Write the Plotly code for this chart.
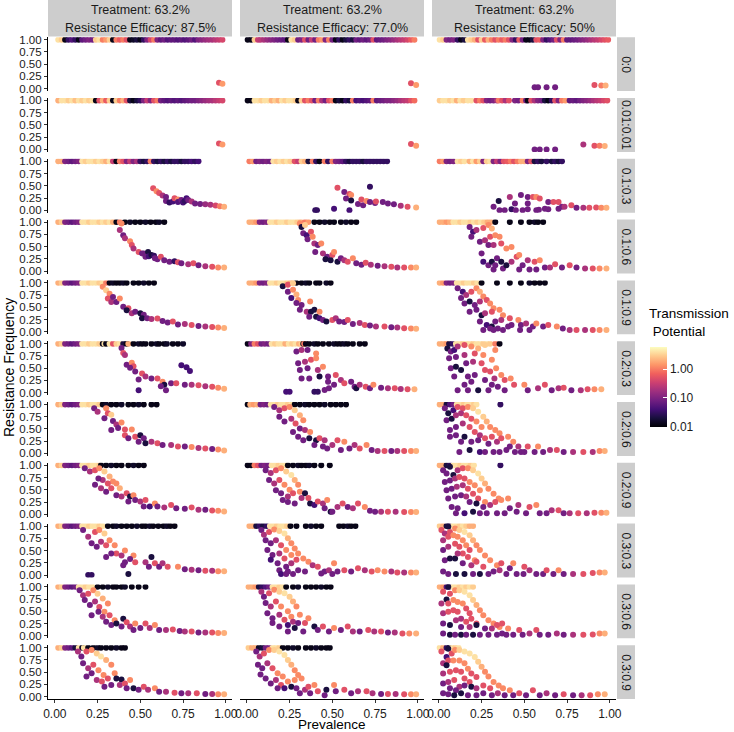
import numpy as np
import plotly.graph_objects as go

# facet labels
rows = ["0:0", "0.01:0.01", "0.1:0.3", "0.1:0.6", "0.1:0.9", "0.2:0.3",
        "0.2:0.6", "0.2:0.9", "0.3:0.3", "0.3:0.6", "0.3:0.9"]
treat = ["Treatment: 63.2%", "Treatment: 63.2%", "Treatment: 63.2%"]
effic = ["Resistance Efficacy: 87.5%", "Resistance Efficacy: 77.0%", "Resistance Efficacy: 50%"]
ticks = [0, 0.25, 0.5, 0.75, 1]
tick_txt = ["0.00", "0.25", "0.50", "0.75", "1.00"]
cb_vals = [0.01, 0.1, 1]
cb_txt = ["0.01", "0.10", "1.00"]

# T = points at resistance frequency 1: (prevalence, transmission potential)
# P = other points: (prevalence, resistance frequency, transmission potential)
# --- column 1 (efficacy 87.5%)
T00 = [(.02,4),(.04,3),(.06,.012),(.08,.03),(.10,.05),(.12,.03),(.14,.012),(.16,.06),(.18,.08),(.20,.1),(.22,.08),(.24,3),(.26,4),(.28,1),(.30,1.5),(.32,3),(.34,.012),(.36,1),(.38,.6),(.40,1),(.42,.5),(.44,.012),(.46,.015),(.48,.02),(.50,.012),(.52,.03),(.54,.1),(.56,.4),(.58,1),(.60,.1),(.62,.06),(.64,.08),(.66,.05),(.68,.06),(.70,.06),(.72,.05),(.74,.06),(.76,.05),(.78,.06),(.80,.08),(.82,.05),(.84,.1),(.86,.12),(.88,.15),(.90,.18),(.92,.2),(.94,.25),(.96,.3),(.98,.4)]
P00 = [(.96,.12,.5),(.98,.10,1.5)]
T10 = [(.02,2),(.04,4),(.06,4),(.08,3),(.10,4),(.12,2.5),(.14,4),(.16,3),(.18,4),(.20,3),(.22,4),(.24,.012),(.26,.5),(.28,2),(.30,.6),(.32,3),(.34,.012),(.36,3),(.38,1),(.40,2),(.42,.5),(.44,.02),(.46,.012),(.48,.02),(.50,.03),(.52,.1),(.54,.3),(.56,.1),(.58,.5),(.60,1),(.62,.08),(.64,.06),(.66,.05),(.68,.06),(.70,.05),(.72,.06),(.74,.05),(.76,.06),(.78,.07),(.80,.08),(.82,.08),(.84,.1),(.86,.12),(.88,.15),(.90,.18),(.92,.2),(.94,.25),(.96,.3),(.98,.4)]
P10 = [(.96,.12,.5),(.98,.10,1.5)]
T20 = [(.02,2),(.04,2),(.06,.1),(.08,.08),(.10,.06),(.12,.08),(.14,.1),(.16,4),(.18,3),(.20,4),(.22,4),(.24,3),(.26,4),(.28,3),(.30,2),(.32,4),(.34,.3),(.36,.012),(.38,1),(.40,.5),(.42,.1),(.44,.3),(.46,.1),(.48,.2),(.50,.03),(.52,.02),(.54,.03),(.56,1),(.58,.03),(.60,.02),(.62,.03),(.64,.02),(.66,.03),(.68,.02),(.70,.03),(.72,.03),(.74,.02),(.76,.03),(.78,.03),(.80,.04),(.82,.03),(.84,.04)]
P20 = [(.575,.45,.5),(.595,.39,1.2),(.61,.35,.5),(.63,.30,.2),(.65,.27,.08),(.65,.19,.08),(.67,.16,.03),(.69,.18,.04),(.70,.245,.5),(.72,.22,1.2),(.72,.17,.05),(.74,.21,.08),(.75,.16,.04),(.76,.19,.03),(.77,.245,.04),(.78,.21,.08),(.80,.18,.2),(.82,.14,.08),(.85,.13,.08),(.88,.12,.15),(.91,.11,.2),(.94,.095,.4),(.965,.08,1),(.99,.07,2)]
T30 = [(.02,2),(.04,3),(.06,.1),(.08,.08),(.10,.06),(.12,.08),(.14,.1),(.16,4),(.18,4),(.20,3),(.22,4),(.24,4),(.26,3),(.28,4),(.30,3),(.32,4),(.34,2),(.36,.012),(.38,1),(.41,.012),(.44,.015),(.47,.012),(.50,.012),(.53,.015),(.56,.012),(.59,.012),(.61,.015),(.64,.012)]
P30 = [(.39,.97,1.2),(.38,.84,.2),(.40,.73,.08),(.41,.67,.2),(.44,.61,1.2),(.45,.53,.5),(.46,.46,.2),(.49,.39,.5),(.51,.36,.08),(.52,.36,.08),(.545,.39,.02),(.53,.29,.08),(.55,.30,.04),(.565,.33,.02),(.58,.31,.03),(.585,.26,.08),(.60,.24,.08),(.62,.29,.5),(.64,.22,.08),(.67,.19,.08),(.70,.20,.03),(.72,.18,.5),(.74,.16,.08),(.78,.14,.2),(.81,.16,.5),(.84,.12,.08),(.88,.10,.2),(.92,.09,.5),(.955,.075,1.2),(.99,.07,2)]
T40 = [(.02,2),(.04,3),(.06,.1),(.08,.08),(.10,.06),(.12,.08),(.14,.1),(.16,4),(.18,4),(.20,3),(.22,4),(.24,4),(.26,3),(.28,4),(.30,1),(.32,.012),(.34,.015),(.36,.012),(.38,.012),(.40,.015),(.42,.012),(.46,.012),(.49,.012),(.52,.015),(.55,.012),(.58,.012)]
P40 = [(.28,.92,1.2),(.30,.85,3),(.32,.78,1.2),(.31,.68,.5),(.33,.61,.2),(.34,.71,.08),(.36,.61,.08),(.38,.68,1.2),(.40,.51,.08),(.43,.48,.5),(.42,.44,.02),(.45,.38,.2),(.47,.41,.08),(.50,.38,.02),(.52,.35,.08),(.51,.28,.02),(.54,.28,.08),(.565,.26,.2),(.60,.27,.5),(.63,.22,.08),(.66,.19,.08),(.69,.21,.5),(.72,.15,.08),(.76,.16,.2),(.80,.14,.5),(.84,.12,.08),(.88,.11,.2),(.92,.10,.5),(.955,.09,1.2),(.99,.08,2)]
T50 = [(.02,2),(.04,3),(.06,.1),(.08,.08),(.10,.06),(.12,.08),(.14,.1),(.16,4),(.18,4),(.20,3),(.22,4),(.24,4),(.26,3),(.28,.012),(.29,4),(.30,.012),(.32,4),(.34,.5),(.36,3),(.38,4),(.40,.02),(.42,.012),(.43,2),(.46,.012),(.49,.015),(.51,.012),(.53,.012),(.565,.012),(.595,.015),(.61,.012),(.64,.012),(.655,.015),(.69,.012),(.72,.012),(.75,.015)]
P50 = [(.39,.91,.08),(.40,.81,.5),(.41,.77,.2),(.42,.57,.08),(.45,.61,1.2),(.46,.54,.5),(.44,.51,.08),(.47,.43,.08),(.51,.39,.5),(.53,.33,.2),(.49,.27,.08),(.565,.29,.08),(.60,.29,.5),(.63,.22,1.2),(.64,.16,.02),(.62,.13,.08),(.49,.05,.04),(.65,.05,.08),(.68,.19,.08),(.71,.19,.5),(.74,.56,.04),(.77,.52,.04),(.79,.44,.04),(.76,.16,.08),(.80,.16,.2),(.84,.15,.5),(.88,.13,.2),(.92,.12,.5),(.955,.10,1.2),(.99,.08,2)]
T60 = [(.02,2),(.04,3),(.06,.1),(.08,.08),(.10,.06),(.12,.08),(.14,.1),(.16,4),(.18,4),(.20,3),(.22,4),(.24,4),(.26,3),(.28,.012),(.30,.015),(.33,.012),(.36,.012),(.39,.015),(.43,.012),(.46,.012),(.49,.015),(.52,.012),(.565,.012),(.595,.012)]
P60 = [(.23,.92,.08),(.25,.85,.2),(.30,.92,1.2),(.31,.82,.5),(.29,.72,.08),(.33,.79,3),(.34,.66,.08),(.36,.59,.2),(.39,.63,1.2),(.37,.52,.08),(.41,.49,.5),(.45,.49,1.2),(.33,.48,.08),(.41,.37,.5),(.43,.31,.08),(.47,.34,.5),(.50,.37,.02),(.52,.31,.08),(.49,.24,.08),(.53,.21,.02),(.565,.24,.2),(.60,.21,.5),(.63,.17,.08),(.68,.17,.2),(.72,.14,.5),(.76,.14,.08),(.80,.13,1.2),(.84,.11,.2),(.88,.10,.5),(.92,.09,.08),(.955,.08,1.2),(.99,.06,2)]
T70 = [(.02,2),(.04,3),(.06,.1),(.08,.08),(.10,.06),(.12,.08),(.14,.1),(.16,4),(.18,4),(.20,3),(.22,4),(.24,4),(.26,3),(.27,.012),(.30,.012),(.33,.015),(.36,.012),(.39,.012),(.43,.012),(.46,.015),(.49,.012),(.52,.012)]
P70 = [(.175,.94,.08),(.205,.87,.2),(.235,.90,.5),(.26,.94,1.2),(.29,.87,3),(.32,.77,2),(.34,.67,1.2),(.31,.63,.5),(.28,.70,.2),(.255,.73,.08),(.235,.60,.08),(.27,.53,.2),(.30,.46,.08),(.33,.53,.5),(.36,.63,1.2),(.38,.53,2),(.36,.39,.08),(.39,.36,.2),(.42,.43,.5),(.44,.36,.02),(.46,.39,1.2),(.43,.26,.08),(.47,.29,.08),(.50,.26,.2),(.53,.29,.5),(.52,.16,.08),(.555,.16,.04),(.585,.22,1.2),(.60,.16,.08),(.64,.14,.2),(.68,.19,.5),(.71,.12,.08),(.76,.11,.08),(.80,.14,.5),(.84,.09,.2),(.88,.09,.08),(.92,.075,.5),(.955,.07,1.2),(.99,.055,2)]
T80 = [(.02,2),(.04,3),(.06,.1),(.08,.08),(.10,.06),(.12,.08),(.14,.1),(.16,4),(.18,4),(.20,3),(.22,4),(.24,4),(.26,3),(.28,4),(.31,.012),(.34,.012),(.36,.015),(.39,.012),(.42,.012),(.45,.012),(.48,.015),(.51,.012),(.53,.012),(.555,.015),(.575,.012),(.605,.012),(.635,.012),(.655,.015),(.675,.012),(.70,.012)]
P80 = [(.165,.92,.08),(.195,.78,.2),(.235,.88,.5),(.26,.92,1.2),(.29,.85,3),(.32,.71,1.2),(.215,.65,.08),(.245,.58,.08),(.27,.68,.2),(.30,.61,.5),(.35,.61,1.2),(.36,.44,.5),(.33,.44,.08),(.30,.37,.08),(.39,.40,.2),(.41,.50,1.2),(.46,.40,1.2),(.41,.26,.08),(.44,.33,.08),(.47,.26,.5),(.43,.02,.02),(.40,.20,.08),(.53,.26,.2),(.565,.37,.02),(.55,.17,.08),(.585,.24,.5),(.61,.17,.08),(.63,.24,.2),(.195,.00,.03),(.215,.00,.03),(.66,.17,.5),(.72,.17,1.2),(.76,.12,.08),(.80,.11,.2),(.84,.10,.08),(.88,.09,.5),(.92,.09,.2),(.955,.075,1.2),(.99,.075,2)]
T90 = [(.02,2),(.04,3),(.06,.1),(.08,.08),(.10,.06),(.12,.08),(.14,4),(.16,4),(.18,3),(.20,4),(.22,4),(.25,.012),(.28,.012),(.31,.015),(.34,.012),(.36,.012),(.39,.012),(.41,.015),(.45,.012),(.49,.012),(.53,.012)]
P90 = [(.145,.93,.08),(.165,.83,.2),(.195,.86,.5),(.225,.93,1.2),(.25,.86,3),(.28,.76,2),(.31,.66,1.2),(.175,.73,.08),(.205,.63,.08),(.235,.70,.2),(.26,.59,.5),(.29,.49,1.2),(.215,.42,.08),(.255,.49,.08),(.28,.39,.2),(.32,.42,.5),(.35,.32,1.2),(.30,.29,.08),(.33,.22,.08),(.36,.25,.02),(.40,.35,.02),(.39,.19,.08),(.42,.28,.5),(.44,.19,.2),(.47,.25,1.2),(.46,.12,.08),(.50,.16,.08),(.53,.25,.5),(.555,.16,.2),(.585,.22,1.2),(.61,.12,.08),(.65,.12,.2),(.69,.13,.5),(.73,.10,.08),(.76,.09,.2),(.80,.09,.5),(.84,.07,.08),(.88,.07,.2),(.92,.07,.5),(.955,.06,1.2),(.99,.06,2)]
T100 = [(.02,2),(.04,3),(.06,.1),(.08,.08),(.10,.06),(.12,.02),(.14,4),(.16,.015),(.17,4),(.195,.012),(.225,.012),(.25,.015),(.27,.012),(.30,.012),(.33,.012),(.36,.015),(.39,.012),(.41,.012)]
P100 = [(.135,.92,.2),(.155,.82,.08),(.185,.92,.5),(.215,.95,1.2),(.245,.88,3),(.27,.82,4),(.30,.75,2),(.33,.65,1.2),(.165,.68,.08),(.195,.58,.2),(.225,.65,.5),(.255,.54,1.2),(.285,.44,1.2),(.185,.41,.08),(.215,.48,.08),(.245,.34,.2),(.275,.31,.5),(.31,.37,.5),(.35,.48,1.2),(.29,.20,.08),(.33,.24,.08),(.36,.37,.02),(.39,.35,.02),(.38,.24,.2),(.41,.27,.5),(.42,.17,.08),(.44,.34,1.2),(.46,.17,.02),(.49,.14,.08),(.52,.20,.5),(.545,.14,.2),(.585,.17,1.2),(.61,.10,.08),(.65,.10,.2),(.70,.08,.5),(.74,.07,.08),(.78,.07,.2),(.83,.07,.5),(.88,.055,.08),(.92,.055,.2),(.955,.05,1.2),(.99,.05,2)]
# --- column 2 (efficacy 77.0%)
T01 = [(.005,.012),(.025,.012),(.045,3),(.065,.3),(.08,.25),(.10,.2),(.12,.15),(.14,.12),(.16,.1),(.18,.08),(.20,.07),(.22,.06),(.24,.012),(.26,4),(.28,3),(.30,.08),(.32,.1),(.34,.5),(.36,.08),(.38,.3),(.40,.08),(.42,1),(.44,1.5),(.46,.1),(.48,1),(.50,.08),(.52,.012),(.54,.03),(.56,.012),(.58,.02),(.60,.03),(.62,.02),(.64,.08),(.66,.06),(.68,.08),(.70,.06),(.72,.08),(.74,.5),(.76,.06),(.78,.07),(.80,.08),(.82,.1),(.84,.12),(.86,.15),(.88,.2),(.90,.25),(.92,.3),(.94,.4),(.96,.6),(.98,1)]
P01 = [(.96,.11,.5),(.99,.075,1.5)]
T11 = [(.005,.012),(.025,.012),(.045,4),(.065,4),(.085,3),(.105,4),(.125,4),(.145,2),(.165,3),(.185,2),(.205,4),(.225,3),(.245,4),(.265,4),(.285,3),(.30,.012),(.32,3),(.34,.5),(.36,1),(.38,.5),(.40,.08),(.42,1),(.44,.2),(.46,.08),(.48,.5),(.50,1),(.52,.012),(.54,.02),(.56,.012),(.58,.03),(.60,.02),(.62,1),(.64,.04),(.66,.05),(.68,.04),(.70,.05),(.72,.06),(.74,1),(.76,.06),(.78,.07),(.80,.08),(.82,.1),(.84,.1),(.86,.12),(.88,.15),(.90,.2),(.92,.25),(.94,.3),(.96,.5),(.98,.8)]
P11 = [(.96,.11,.5),(.99,.075,1.5)]
T21 = [(.015,1),(.035,1.5),(.055,.08),(.075,.1),(.095,.08),(.115,.1),(.135,.08),(.155,4),(.175,3),(.195,4),(.215,3),(.235,4),(.255,3),(.28,.5),(.30,.3),(.32,3),(.34,2),(.36,.02),(.385,1),(.405,.03),(.425,.012),(.455,1),(.475,.03),(.50,1),(.52,.1),(.54,.08),(.56,.06),(.58,.03),(.60,.02),(.62,.03),(.64,.03),(.66,.03),(.68,.02),(.70,.03),(.72,.03),(.74,.03),(.76,.03),(.78,.03),(.80,.03),(.82,.03)]
P21 = [(.53,.46,.5),(.57,.37,.08),(.60,.33,.5),(.61,.31,1.2),(.72,.48,.03),(.58,.24,.08),(.61,.20,.02),(.51,.03,.04),(.40,.00,.03),(.41,.00,.03),(.60,.00,.04),(.65,.13,.08),(.68,.10,.08),(.67,.22,.5),(.70,.19,1.2),(.72,.17,.08),(.75,.15,.08),(.755,.18,.5),(.795,.17,.08),(.825,.14,.08),(.86,.12,.08),(.90,.09,.2),(.94,.07,.5),(.99,.055,2)]
T31 = [(.015,2),(.035,2),(.055,1.5),(.075,.1),(.095,.08),(.115,.1),(.135,4),(.155,4),(.175,3),(.195,4),(.215,4),(.235,3),(.255,4),(.275,4),(.295,3),(.315,2),(.34,1),(.36,1.5),(.395,.012),(.425,.012),(.455,.015),(.485,.012),(.51,.012),(.55,.012),(.58,.015),(.61,.012),(.64,.012)]
P31 = [(.31,.97,1.2),(.32,.90,.02),(.34,.94,3),(.33,.77,.08),(.35,.73,.04),(.375,.80,.5),(.355,.65,.08),(.385,.70,1.2),(.395,.56,.2),(.415,.53,.08),(.435,.56,1.2),(.40,.39,.08),(.445,.36,.2),(.47,.29,.08),(.46,.24,.02),(.50,.33,.5),(.51,.39,1.2),(.49,.22,.02),(.53,.19,.02),(.55,.26,.08),(.57,.22,.2),(.59,.19,.5),(.62,.26,1.2),(.64,.16,.08),(.67,.13,.08),(.695,.17,.5),(.725,.13,.2),(.765,.11,.08),(.805,.10,.2),(.845,.09,.5),(.88,.075,.2),(.92,.075,.5),(.96,.07,1.2),(.99,.07,2)]
T41 = [(.015,2),(.035,2),(.055,1.5),(.075,.1),(.095,.08),(.115,.1),(.135,4),(.155,4),(.175,3),(.195,4),(.215,4),(.235,3),(.255,2),(.27,3),(.29,.012),(.32,.012),(.345,.015),(.365,.012),(.405,.012),(.425,.012),(.465,.015),(.49,.012)]
P41 = [(.21,.93,.02),(.24,.96,.5),(.27,.99,3),(.24,.82,.08),(.27,.86,1.2),(.29,.76,2),(.26,.69,.04),(.30,.65,1.2),(.29,.59,.08),(.32,.55,.08),(.37,.62,1.2),(.31,.45,.08),(.35,.41,.2),(.375,.41,.02),(.395,.45,.02),(.425,.41,1.2),(.365,.31,.08),(.405,.31,.02),(.425,.28,.04),(.445,.24,.08),(.465,.21,.02),(.50,.24,.5),(.52,.28,.2),(.54,.21,.08),(.57,.20,.08),(.59,.24,.5),(.62,.16,.08),(.66,.18,.2),(.69,.14,.5),(.72,.13,.08),(.755,.11,.2),(.805,.11,.5),(.845,.095,.08),(.88,.09,.2),(.92,.075,.5),(.96,.07,1.2),(.99,.065,2)]
T51 = [(.005,.012),(.025,.1),(.045,1),(.065,.5),(.085,.08),(.105,.1),(.125,.08),(.145,4),(.165,3),(.185,4),(.205,4),(.225,2),(.245,4),(.265,3),(.285,4),(.305,2),(.32,3),(.33,.012),(.335,1),(.345,.012),(.365,.012),(.395,.015),(.415,.012),(.445,.012),(.48,.012),(.51,.015),(.53,.012),(.55,.012),(.57,.015),(.59,.012),(.62,.012),(.66,.012),(.69,.012)]
P51 = [(.29,.84,.08),(.32,.87,.2),(.355,.87,.08),(.405,.80,1.2),(.30,.60,.08),(.34,.63,.2),(.375,.67,.5),(.405,.70,1.2),(.31,.46,.08),(.355,.50,.08),(.415,.46,.2),(.445,.53,1.2),(.32,.29,.08),(.365,.29,.08),(.425,.33,.02),(.475,.33,.08),(.52,.36,.5),(.475,.22,.08),(.51,.16,.08),(.48,.09,.08),(.55,.26,.2),(.57,.19,.5),(.61,.22,.08),(.63,.12,.08),(.64,.09,.02),(.66,.16,.2),(.695,.12,.5),(.72,.09,.08),(.74,.16,1.2),(.785,.10,.08),(.825,.09,.2),(.865,.09,.5),(.90,.075,.2),(.94,.07,.5),(.98,.07,2),(.23,.02,.04),(.25,.02,.04),(.395,.02,.03),(.415,.02,.03),(.455,.055,.08)]
T61 = [(.005,.012),(.02,2),(.04,1.5),(.06,2),(.08,.08),(.10,.1),(.12,.08),(.14,4),(.16,4),(.18,3),(.20,4),(.22,4),(.24,3),(.26,4),(.28,.012),(.31,.012),(.34,.015),(.365,.012),(.395,.012),(.425,.012),(.455,.015),(.49,.012),(.52,.012),(.55,.012),(.58,.012)]
P61 = [(.16,.95,.08),(.19,.88,.2),(.22,.92,.5),(.25,.95,1.2),(.28,.88,3),(.31,.78,2),(.33,.68,1.2),(.19,.75,.08),(.22,.65,.08),(.26,.71,.2),(.285,.61,.5),(.31,.51,.08),(.27,.44,.08),(.34,.48,.2),(.37,.44,1.2),(.30,.34,.08),(.33,.27,.08),(.365,.31,.02),(.405,.27,.02),(.395,.17,.08),(.425,.31,.5),(.455,.27,.2),(.445,.14,.08),(.47,.10,.08),(.50,.17,.2),(.53,.27,.5),(.57,.24,1.2),(.55,.07,.08),(.60,.10,.08),(.63,.17,.2),(.66,.10,.5),(.70,.17,1.2),(.73,.07,.08),(.765,.05,.2),(.805,.05,.5),(.845,.05,.08),(.88,.05,.2),(.92,.05,.5),(.96,.05,1.2),(.99,.05,2)]
T71 = [(.005,.012),(.025,.012),(.045,1),(.065,.5),(.085,.08),(.105,.1),(.125,.08),(.145,4),(.165,4),(.185,3),(.205,4),(.225,4),(.24,.012),(.27,.012),(.30,.015),(.32,.012),(.345,.012),(.365,.015),(.395,.012),(.435,.012),(.485,.012)]
P71 = [(.11,.90,.08),(.14,.84,.2),(.17,.90,.5),(.20,.94,1.2),(.23,.87,3),(.26,.80,4),(.28,.70,2),(.30,.60,1.2),(.13,.70,.08),(.16,.63,.2),(.19,.70,.5),(.22,.60,1.2),(.25,.50,1.2),(.17,.49,.08),(.20,.43,.08),(.24,.36,.2),(.27,.43,.5),(.31,.46,1.2),(.21,.29,.08),(.24,.25,.08),(.28,.22,.08),(.32,.33,.2),(.34,.43,.02),(.36,.33,.5),(.37,.22,.02),(.395,.19,.04),(.415,.26,.5),(.445,.22,.2),(.47,.29,1.2),(.455,.12,.08),(.49,.05,.02),(.50,.05,.08),(.53,.15,.2),(.56,.22,.5),(.59,.15,.08),(.62,.12,.2),(.65,.22,.5),(.69,.15,1.2),(.72,.07,.08),(.75,.05,.08),(.785,.05,.2),(.825,.05,.5),(.87,.05,.2),(.92,.045,.5),(.96,.045,1.2),(.99,.045,2)]
T81 = [(.015,2),(.035,2),(.055,.02),(.075,.03),(.095,.02),(.115,.03),(.135,4),(.155,4),(.175,3),(.195,4),(.215,4),(.235,3),(.255,.012),(.29,.012),(.345,.012),(.375,.015),(.405,.012),(.435,.012),(.54,.012),(.565,.012),(.59,.015),(.61,.012),(.635,.012)]
P81 = [(.085,.92,.08),(.10,.82,.2),(.13,.88,.5),(.16,.93,1.2),(.19,.90,3),(.22,.85,4),(.24,.75,2),(.26,.65,1.2),(.28,.54,1.2),(.11,.71,.08),(.14,.65,.08),(.17,.71,.2),(.20,.61,.5),(.23,.51,1.2),(.12,.51,.08),(.15,.41,.08),(.19,.44,.2),(.22,.34,.5),(.26,.41,1.2),(.30,.44,1.2),(.14,.31,.04),(.18,.24,.08),(.23,.17,.08),(.26,.24,.2),(.29,.31,.5),(.33,.34,1.2),(.36,.27,1.2),(.19,.10,.08),(.24,.07,.08),(.20,.02,.04),(.30,.10,.08),(.34,.07,.08),(.385,.20,.2),(.415,.17,.5),(.455,.07,.08),(.48,.10,.2),(.51,.24,1.2),(.53,.07,.08),(.57,.10,.5),(.61,.07,.08),(.65,.14,.5),(.69,.10,.2),(.73,.07,.5),(.765,.10,1.2),(.805,.07,1.2),(.845,.07,.2),(.88,.05,.5),(.92,.05,.2),(.96,.05,1.2),(.99,.05,2),(.23,.02,.08),(.27,.02,.08),(.435,.03,.08),(.50,.02,.08)]
T91 = [(.01,2),(.03,2),(.05,1.5),(.07,.02),(.09,.03),(.11,.05),(.13,.08),(.15,4),(.17,4),(.19,3),(.21,4),(.23,.012),(.27,.012),(.30,.015),(.345,.012),(.375,.012),(.405,.012),(.435,.015),(.465,.012),(.49,.012)]
P91 = [(.085,.90,.2),(.10,.80,.08),(.13,.87,.5),(.16,.94,1.2),(.19,.90,3),(.22,.87,4),(.25,.80,3),(.27,.70,2),(.29,.60,1.2),(.11,.67,.08),(.14,.60,.2),(.17,.70,.5),(.20,.60,1.2),(.24,.50,1.2),(.12,.46,.08),(.15,.36,.08),(.19,.43,.2),(.22,.33,.5),(.26,.39,1.2),(.31,.43,1.2),(.15,.26,.08),(.19,.19,.08),(.24,.22,.04),(.27,.29,.2),(.30,.26,.08),(.34,.26,.5),(.36,.36,1.2),(.24,.09,.08),(.28,.16,.02),(.33,.09,.08),(.395,.19,.02),(.415,.12,.08),(.445,.19,.5),(.48,.09,.08),(.51,.16,1.2),(.55,.12,.08),(.59,.19,.5),(.62,.09,.2),(.66,.09,.08),(.71,.12,.5),(.745,.09,.2),(.785,.09,.5),(.825,.07,.08),(.865,.07,.2),(.91,.05,.5),(.95,.05,1.2),(.99,.05,2)]
T101 = [(.01,3),(.03,2),(.05,2),(.07,.015),(.09,.02),(.11,.08),(.13,.1),(.15,4),(.17,4),(.19,3),(.21,.012),(.24,.012),(.27,.015),(.30,.012),(.345,.012),(.375,.012),(.405,.015),(.435,.012),(.465,.012),(.485,.012)]
P101 = [(.055,.92,.08),(.075,.82,.2),(.10,.88,.5),(.13,.95,1.2),(.16,.95,3),(.19,.92,4),(.22,.85,4),(.24,.75,3),(.26,.65,2),(.28,.54,1.2),(.30,.44,1.2),(.065,.65,.08),(.09,.58,.08),(.12,.68,.2),(.15,.58,.5),(.18,.48,1.2),(.21,.41,1.2),(.08,.45,.08),(.11,.37,.08),(.14,.27,.08),(.17,.34,.2),(.20,.24,.5),(.24,.31,1.2),(.28,.34,1.2),(.32,.37,1.2),(.18,.17,.08),(.22,.17,.04),(.26,.20,.02),(.29,.17,.08),(.31,.07,.08),(.34,.14,.2),(.36,.20,.5),(.395,.24,1.2),(.37,.07,.08),(.415,.11,.5),(.455,.03,.08),(.465,.14,.02),(.51,.24,1.2),(.52,.11,.08),(.57,.14,.5),(.61,.07,.08),(.65,.11,.2),(.70,.11,.5),(.735,.07,.2),(.785,.055,.08),(.825,.055,.5),(.87,.055,.2),(.92,.05,.5),(.96,.05,1.2),(.99,.05,2)]
# --- column 3 (efficacy 50%)
T02 = [(.005,4),(.025,3),(.045,.1),(.065,.08),(.085,.1),(.11,.03),(.13,.012),(.15,.02),(.17,4),(.19,3),(.21,2),(.23,.5),(.25,3),(.27,.6),(.29,2),(.31,1),(.33,.5),(.35,1),(.37,.6),(.39,1),(.41,.5),(.43,.1),(.45,.03),(.47,.6),(.49,.08),(.51,.012),(.53,.012),(.55,.02),(.57,.5),(.59,.6),(.61,.1),(.63,.03),(.65,.05),(.67,.08),(.69,.5),(.71,.1),(.73,1),(.75,.06),(.77,.06),(.79,.07),(.81,.08),(.83,.1),(.85,.12),(.87,.15),(.89,.2),(.91,.25),(.93,.3),(.95,.4),(.97,.5),(.99,.6)]
P02 = [(.56,.03,.08),(.58,.03,.08),(.63,.03,.08),(.68,.03,.08),(.91,.075,.5),(.95,.065,1),(.975,.065,2)]
T12 = [(.005,3),(.025,4),(.045,4),(.065,3),(.085,4),(.105,2),(.125,4),(.145,3),(.17,4),(.19,4),(.22,.5),(.24,1),(.26,.5),(.28,.1),(.30,.08),(.32,.1),(.34,.2),(.35,1),(.37,.5),(.39,.2),(.41,.5),(.445,.1),(.465,.08),(.49,1),(.51,.08),(.52,.012),(.54,.5),(.56,.2),(.58,.1),(.60,.08),(.62,.02),(.64,.012),(.66,.03),(.68,.5),(.70,.1),(.72,1),(.74,1.5),(.765,.06),(.785,.07),(.805,.06),(.825,.08),(.845,.1),(.865,.12),(.885,.15),(.905,.2),(.925,.25),(.945,.3),(.965,.4),(.985,.5)]
P12 = [(.56,.0,.08),(.59,.0,.08),(.63,.0,.08),(.68,.0,.08),(.845,.10,.2),(.91,.075,.5),(.94,.075,1),(.97,.07,2)]
T22 = [(.005,1),(.025,1.5),(.045,.1),(.065,.08),(.085,.1),(.11,4),(.13,3),(.15,4),(.18,2),(.20,4),(.22,1.5),(.24,3),(.26,.1),(.28,3),(.30,4),(.32,.1),(.34,.3),(.36,.1),(.38,.5),(.40,.6),(.42,1),(.44,.5),(.46,1),(.48,2),(.50,2),(.52,.1),(.54,.5),(.56,.02),(.58,.03),(.60,.02),(.63,.03),(.66,.02),(.68,.03),(.70,.02),(.72,.03)]
P22 = [(.32,.07,.08),(.35,.19,.02),(.355,.00,.08),(.385,.00,.08),(.415,.27,.2),(.425,.02,.03),(.445,.14,.08),(.45,.00,.08),(.48,.31,.08),(.49,.00,.08),(.52,.27,.08),(.52,.14,.08),(.52,.02,.08),(.55,.27,.5),(.57,.27,1.2),(.57,.00,.08),(.59,.24,.5),(.585,.01,.08),(.62,.03,.08),(.64,.17,.08),(.64,.02,.08),(.67,.17,.5),(.70,.17,.5),(.70,.03,.08),(.72,.07,.08),(.735,.07,.2),(.775,.10,.5),(.805,.05,.08),(.845,.05,.2),(.88,.05,.5),(.92,.055,.5),(.95,.05,1.2),(.98,.05,2)]
T32 = [(.005,2),(.025,2),(.045,1.5),(.065,2),(.085,4),(.105,4),(.125,3),(.145,4),(.165,4),(.185,3),(.205,4),(.225,3),(.245,4),(.265,3),(.285,2),(.305,2),(.33,.012),(.415,.012),(.48,.012),(.53,.012),(.56,.015),(.58,.012),(.61,.012)]
P32 = [(.18,.90,.08),(.20,.80,.04),(.19,.70,.08),(.22,.84,.2),(.26,.88,.5),(.29,.94,1.2),(.31,.87,2),(.24,.60,.08),(.27,.63,.2),(.30,.70,.5),(.33,.73,1.2),(.355,.70,1.2),(.25,.36,.08),(.29,.53,.08),(.32,.53,.2),(.365,.56,.5),(.395,.46,1.2),(.425,.49,1.2),(.26,.19,.04),(.29,.12,.08),(.31,.19,.02),(.33,.12,.08),(.34,.26,.08),(.365,.19,.02),(.375,.05,.08),(.395,.12,.02),(.425,.19,.2),(.455,.29,.5),(.47,.33,1.2),(.49,.12,.08),(.52,.22,.2),(.56,.19,.5),(.59,.22,1.2),(.32,.03,.08),(.47,.03,.08),(.53,.03,.08),(.57,.03,.08),(.62,.07,.08),(.65,.07,.2),(.68,.14,.5),(.72,.07,.08),(.765,.12,.5),(.805,.07,.08),(.855,.05,.2),(.90,.05,.5),(.94,.05,1.2),(.98,.05,2)]
T42 = [(.005,2),(.025,1.5),(.045,.1),(.065,.08),(.085,.1),(.105,4),(.125,4),(.145,3),(.165,4),(.185,4),(.205,3),(.225,4),(.25,.012),(.34,.012),(.415,.012),(.48,.012),(.53,.015),(.56,.012),(.59,.012),(.62,.012)]
P42 = [(.11,.89,.08),(.14,.82,.04),(.13,.69,.08),(.16,.75,.2),(.19,.82,.5),(.22,.89,1.2),(.24,.82,2),(.26,.72,1.2),(.15,.58,.08),(.18,.62,.02),(.21,.55,.08),(.24,.62,.2),(.28,.65,.5),(.30,.58,1.2),(.32,.48,1.2),(.18,.41,.08),(.22,.45,.08),(.25,.34,.02),(.27,.38,.2),(.31,.41,.5),(.355,.45,1.2),(.375,.34,1.2),(.24,.21,.08),(.28,.14,.04),(.31,.11,.02),(.33,.21,.08),(.365,.24,.2),(.405,.11,.08),(.415,.28,.5),(.425,.14,.08),(.465,.24,1.2),(.48,.14,.08),(.51,.17,.2),(.55,.11,.08),(.57,.17,1.2),(.61,.11,.08),(.64,.14,.5),(.69,.11,1.2),(.725,.07,.08),(.765,.04,.2),(.805,.04,.5),(.855,.04,.2),(.90,.04,.5),(.94,.04,1.2),(.98,.04,2),(.26,.04,.08),(.30,.07,.08),(.32,.04,.08),(.345,.07,.08),(.375,.04,.08),(.475,.04,.08),(.53,.04,.08)]
T52 = [(.005,2),(.025,2),(.045,1.5),(.06,.02),(.08,.03),(.10,4),(.12,4),(.14,3),(.16,4),(.18,4),(.20,3),(.22,4),(.24,4),(.26,3),(.28,4),(.30,3),(.33,1),(.355,.012)]
P52 = [(.05,.90,.02),(.07,.84,.08),(.09,.87,.04),(.11,.94,.2),(.15,.97,.5),(.19,.94,1.2),(.23,.90,2),(.27,.97,3),(.33,.87,1.2),(.06,.70,.08),(.10,.73,.08),(.15,.77,.2),(.21,.80,.5),(.26,.77,1.2),(.07,.50,.08),(.10,.53,.02),(.16,.60,.08),(.20,.63,.2),(.25,.60,.5),(.31,.67,1.2),(.335,.50,1.2),(.09,.33,.08),(.13,.46,.02),(.17,.33,.08),(.21,.36,.08),(.27,.46,.5),(.30,.43,.5),(.365,.36,1.2),(.15,.16,.08),(.19,.22,.08),(.27,.26,.08),(.325,.29,.2),(.385,.26,.5),(.42,.29,1.2),(.11,.05,.08),(.17,.05,.08),(.23,.05,.02),(.29,.05,.08),(.31,.16,.08),(.345,.12,.08),(.385,.05,.08),(.44,.16,.5),(.50,.16,1.2),(.52,.05,.08),(.58,.09,.2),(.62,.16,.5),(.66,.05,.08),(.70,.09,.2),(.73,.10,.5),(.775,.05,.08),(.83,.05,.2),(.87,.07,.5),(.91,.07,1.2),(.95,.07,2)]
T62 = [(.005,2),(.025,2),(.045,.02),(.065,.05),(.085,.08),(.105,4),(.125,4),(.145,3),(.165,4),(.185,4),(.205,3),(.22,4),(.36,.03)]
P62 = [(.035,.92,.08),(.055,.82,.02),(.085,.88,.04),(.11,.95,.5),(.14,.92,.5),(.17,.95,1.2),(.20,.92,3),(.23,.85,4),(.26,.75,3),(.28,.65,2),(.30,.54,1.2),(.33,.48,1.2),(.355,.41,1.2),(.045,.68,.08),(.075,.71,.02),(.10,.78,.2),(.13,.82,.2),(.16,.78,.5),(.19,.71,.5),(.22,.65,1.2),(.25,.54,1.2),(.065,.48,.08),(.10,.54,.08),(.14,.61,.2),(.18,.54,.5),(.21,.44,.5),(.24,.37,.2),(.27,.31,.5),(.31,.34,.5),(.065,.34,.08),(.10,.37,.08),(.13,.24,.08),(.15,.34,.02),(.19,.24,.08),(.23,.27,.08),(.29,.20,.08),(.34,.24,.2),(.365,.31,.5),(.405,.34,1.2),(.435,.24,1.2),(.12,.03,.08),(.18,.07,.02),(.24,.03,.04),(.27,.03,.08),(.32,.03,.08),(.355,.03,.08),(.395,.07,.08),(.415,.14,.08),(.445,.03,.08),(.465,.14,.2),(.48,.03,.08),(.50,.03,.08),(.52,.14,.5),(.56,.03,.08),(.58,.14,1.2),(.61,.03,.08),(.65,.07,.2),(.69,.07,.5),(.73,.03,.08),(.785,.03,.2),(.845,.03,.5),(.90,.03,.2),(.94,.05,1.2),(.97,.05,2)]
T72 = [(.005,2),(.025,2),(.045,.02),(.065,.03),(.085,4),(.105,4),(.125,3),(.145,4),(.165,4),(.185,3),(.205,4),(.36,.03)]
P72 = [(.025,.90,.08),(.045,.83,.08),(.065,.97,.02),(.085,.80,.02),(.11,.90,.2),(.14,.94,.5),(.17,.94,1.2),(.20,.90,3),(.23,.83,4),(.25,.73,3),(.27,.63,2),(.29,.52,1.2),(.32,.42,1.2),(.35,.32,1.2),(.035,.66,.08),(.065,.69,.08),(.095,.73,.2),(.12,.76,.5),(.15,.73,.5),(.18,.66,1.2),(.21,.59,1.2),(.24,.49,1.2),(.045,.49,.08),(.075,.52,.08),(.105,.56,.2),(.14,.59,.2),(.17,.52,.5),(.20,.42,.5),(.23,.32,.5),(.27,.25,1.2),(.055,.32,.08),(.095,.36,.08),(.13,.39,.08),(.16,.36,.2),(.18,.25,.08),(.22,.22,.02),(.26,.15,.08),(.30,.19,.2),(.33,.25,.5),(.365,.29,1.2),(.405,.32,1.2),(.075,.15,.08),(.11,.12,.08),(.10,.02,.08),(.15,.02,.04),(.20,.05,.02),(.24,.02,.08),(.28,.02,.08),(.34,.02,.08),(.385,.02,.08),(.415,.12,.08),(.455,.05,.08),(.465,.19,.2),(.51,.02,.08),(.53,.15,.5),(.57,.19,1.2),(.59,.02,.08),(.63,.02,.08),(.66,.08,.2),(.70,.08,.5),(.73,.02,.08),(.765,.02,.2),(.815,.02,.5),(.865,.02,.2),(.91,.03,.5),(.95,.03,1.2),(.98,.03,2)]
T82 = [(.005,3),(.025,2),(.045,.02),(.06,.03),(.08,4),(.10,4),(.12,3),(.14,4),(.16,3),(.18,2),(.20,2)]
P82 = [(.015,.92,.5),(.035,.85,.2),(.055,.99,.02),(.065,.88,.5),(.095,.95,1.2),(.12,.92,3),(.15,.88,4),(.18,.81,3),(.20,.71,2),(.22,.61,1.2),(.24,.51,1.2),(.27,.40,1.2),(.30,.30,1.2),(.34,.20,1.2),(.025,.71,.2),(.055,.78,.5),(.085,.81,1.2),(.11,.78,1.2),(.14,.71,1.2),(.16,.61,1.2),(.18,.51,.5),(.025,.51,.08),(.055,.58,.2),(.095,.64,.5),(.12,.58,.5),(.14,.44,.5),(.17,.37,.5),(.21,.30,1.2),(.035,.30,.08),(.065,.34,.02),(.095,.34,.02),(.11,.44,.2),(.14,.24,.08),(.19,.20,.2),(.22,.27,.5),(.26,.17,.5),(.025,.07,.08),(.055,.02,.08),(.10,.02,.02),(.15,.02,.02),(.20,.02,.08),(.24,.02,.02),(.29,.02,.08),(.32,.07,.08),(.355,.10,.2),(.365,.24,.5),(.395,.02,.08),(.415,.14,.08),(.435,.24,1.2),(.455,.02,.08),(.495,.02,.08),(.50,.17,.5),(.53,.10,.2),(.57,.02,.08),(.61,.02,.08),(.63,.10,.5),(.67,.02,.08),(.70,.10,1.2),(.73,.02,.08),(.785,.02,.2),(.845,.02,.5),(.90,.04,.5),(.94,.05,1.2),(.97,.05,2)]
T92 = [(.005,2),(.025,1.5),(.045,.05),(.06,.03),(.08,4),(.10,4),(.12,3),(.14,4),(.16,3),(.18,4),(.20,3)]
P92 = [(.025,.90,.5),(.045,.74,.02),(.055,1.0,.02),(.065,.86,.5),(.095,.93,1.2),(.12,.93,3),(.15,.90,4),(.18,.83,4),(.20,.73,3),(.22,.63,2),(.24,.52,1.2),(.26,.42,1.2),(.29,.32,1.2),(.32,.25,1.2),(.355,.18,1.2),(.015,.66,.2),(.055,.66,.5),(.085,.73,1.2),(.11,.69,1.2),(.14,.66,1.2),(.16,.56,.5),(.18,.46,.5),(.025,.46,.2),(.055,.49,.5),(.085,.52,.5),(.11,.49,.5),(.13,.35,.2),(.16,.29,.5),(.19,.35,.5),(.22,.25,.5),(.025,.25,.08),(.065,.22,.02),(.10,.32,.2),(.13,.18,.08),(.18,.18,.2),(.22,.22,.02),(.27,.15,.08),(.31,.15,.2),(.34,.22,.5),(.37,.25,.5),(.405,.15,1.2),(.025,.05,.08),(.065,.02,.02),(.095,.02,.08),(.13,.02,.02),(.16,.02,.08),(.20,.02,.02),(.24,.02,.08),(.29,.02,.08),(.34,.02,.08),(.37,.05,.08),(.395,.02,.08),(.435,.02,.08),(.47,.12,.5),(.49,.02,.08),(.53,.05,.2),(.57,.12,.5),(.59,.02,.08),(.64,.02,.08),(.69,.05,.2),(.73,.02,.08),(.785,.02,.2),(.845,.02,.5),(.90,.03,.5),(.94,.05,1.2),(.97,.05,2)]
T102 = [(.005,4),(.025,2),(.045,.03),(.06,.02),(.075,4),(.095,3),(.115,4)]
P102 = [(.015,.92,.5),(.045,.81,.04),(.055,.98,.02),(.075,.88,.5),(.095,.95,1.2),(.12,.95,3),(.15,.92,4),(.18,.88,4),(.21,.81,4),(.23,.71,3),(.25,.61,2),(.27,.51,1.2),(.29,.41,1.2),(.32,.30,1.2),(.35,.23,1.2),(.375,.17,1.2),(.415,.13,1.2),(.025,.68,.2),(.055,.74,.5),(.085,.74,1.2),(.12,.74,1.2),(.15,.68,1.2),(.17,.57,1.2),(.19,.47,.5),(.045,.64,.02),(.025,.47,.2),(.065,.51,.5),(.10,.54,.5),(.13,.51,.5),(.15,.37,.5),(.18,.30,.5),(.22,.40,.5),(.025,.27,.08),(.055,.30,.2),(.09,.34,.5),(.12,.20,.2),(.15,.23,.08),(.19,.20,.02),(.22,.17,.2),(.26,.23,.5),(.30,.17,.5),(.065,.17,.08),(.10,.13,.08),(.025,.07,.08),(.055,.05,.08),(.09,.03,.02),(.13,.07,.02),(.17,.03,.08),(.22,.03,.08),(.26,.07,.08),(.31,.03,.08),(.345,.07,.2),(.385,.03,.08),(.435,.03,.08),(.47,.07,.5),(.51,.03,.08),(.55,.13,.5),(.59,.03,.08),(.63,.07,.2),(.68,.03,.08),(.73,.05,.5),(.785,.03,.08),(.835,.03,.2),(.885,.03,.5),(.93,.05,1.2),(.97,.05,2)]

panels = [
    [(T00, P00), (T01, P01), (T02, P02)],
    [(T10, P10), (T11, P11), (T12, P12)],
    [(T20, P20), (T21, P21), (T22, P22)],
    [(T30, P30), (T31, P31), (T32, P32)],
    [(T40, P40), (T41, P41), (T42, P42)],
    [(T50, P50), (T51, P51), (T52, P52)],
    [(T60, P60), (T61, P61), (T62, P62)],
    [(T70, P70), (T71, P71), (T72, P72)],
    [(T80, P80), (T81, P81), (T82, P82)],
    [(T90, P90), (T91, P91), (T92, P92)],
    [(T100, P100), (T101, P101), (T102, P102)],
]

W, H = 734, 732
FONT = "Liberation Sans, Arial, Helvetica, sans-serif"
col_left = [48, 240, 432]
col_w = 184
row_top0, row_pitch, row_h = 37.2, 60.8, 53.9
cmin, cmax = np.log10(0.0095), np.log10(5.9)

def px(v):
    return v / W

def py(v):
    return 1 - v / H

fig = go.Figure()
shapes = []
annotations = []

for r in range(11):
    top_px = row_top0 + r * row_pitch
    ydom = [py(top_px + row_h), py(top_px)]
    for c in range(3):
        k = r * 3 + c + 1
        top, pts = panels[r][c]
        xs = [p[0] for p in top] + [p[0] for p in pts]
        ys = [1.0] * len(top) + [p[1] for p in pts]
        tp = [p[1] for p in top] + [p[2] for p in pts]
        marker = dict(color=np.log10(tp), colorscale="Magma", cmin=cmin, cmax=cmax,
                      size=6, opacity=1, line=dict(width=0), showscale=(k == 1))
        if k == 1:
            marker["colorbar"] = dict(
                x=px(650), xanchor="left", xpad=0,
                y=py(387), yanchor="middle", ypad=0,
                len=80 / H, lenmode="fraction", thickness=17, outlinewidth=0,
                tickvals=list(np.log10(cb_vals)), ticktext=cb_txt,
                ticks="inside", ticklen=4, tickcolor="white", tickwidth=1,
                tickfont=dict(size=12, color="#1a1a1a", family=FONT))
        fig.add_trace(go.Scatter(x=xs, y=ys, mode="markers", marker=marker,
                                 xaxis="x" if k == 1 else f"x{k}",
                                 yaxis="y" if k == 1 else f"y{k}",
                                 showlegend=False, hoverinfo="skip"))
        xdom = [px(col_left[c]), px(col_left[c] + col_w)]
        bottom = r == 10
        left = c == 0
        xa = dict(domain=xdom, range=[-0.04, 1.036], showgrid=False, zeroline=False,
                  anchor="y" if k == 1 else f"y{k}", automargin=False,
                  showline=bottom, linecolor="black", linewidth=1.1,
                  ticks="outside" if bottom else "", ticklen=3, tickcolor="#333333",
                  tickvals=ticks, ticktext=tick_txt, showticklabels=bottom,
                  tickfont=dict(size=12, color="#1a1a1a", family=FONT))
        ya = dict(domain=ydom, range=[-0.05, 1.05], showgrid=False, zeroline=False,
                  anchor="x" if k == 1 else f"x{k}", automargin=False,
                  showline=left, linecolor="black", linewidth=1.1,
                  ticks="outside" if left else "", ticklen=3, tickcolor="#333333",
                  tickvals=ticks, ticktext=tick_txt, showticklabels=left,
                  tickfont=dict(size=11.5, color="#1a1a1a", family=FONT))
        fig.update_layout(**{("xaxis" if k == 1 else f"xaxis{k}"): xa,
                             ("yaxis" if k == 1 else f"yaxis{k}"): ya})
    # right strip
    shapes.append(dict(type="rect", xref="paper", yref="paper", x0=px(617), x1=px(635),
                       y0=ydom[0], y1=ydom[1], fillcolor="#cdcdcd", line=dict(width=0),
                       layer="below"))
    annotations.append(dict(text=rows[r], x=px(626), y=py(top_px + row_h / 2),
                            xref="paper", yref="paper", showarrow=False, textangle=90,
                            xanchor="center", yanchor="middle",
                            font=dict(size=12, color="#1a1a1a", family=FONT)))

for c in range(3):
    shapes.append(dict(type="rect", xref="paper", yref="paper", x0=px(col_left[c]),
                       x1=px(col_left[c] + col_w), y0=py(36.6), y1=1, fillcolor="#cdcdcd",
                       line=dict(width=0), layer="below"))
    cx = px(col_left[c] + col_w / 2)
    annotations.append(dict(text=treat[c], x=cx, y=py(10), xref="paper", yref="paper",
                            showarrow=False, xanchor="center", yanchor="middle",
                            font=dict(size=12.5, color="#1a1a1a", family=FONT)))
    annotations.append(dict(text=effic[c], x=cx, y=py(28.5), xref="paper", yref="paper",
                            showarrow=False, xanchor="center", yanchor="middle",
                            font=dict(size=12.5, color="#1a1a1a", family=FONT)))

annotations.append(dict(text="Prevalence", x=px(332), y=py(724), xref="paper", yref="paper",
                        showarrow=False, xanchor="center", yanchor="middle", borderpad=0,
                        font=dict(size=13.5, color="black", family=FONT)))
annotations.append(dict(text="Resistance Frequency", x=px(9), y=py(368), xref="paper",
                        yref="paper", showarrow=False, textangle=-90, xanchor="center",
                        yanchor="middle", font=dict(size=14, color="black", family=FONT)))
annotations.append(dict(text="Transmission", x=px(647), y=py(314), xref="paper", yref="paper",
                        showarrow=False, xanchor="left", yanchor="middle",
                        font=dict(size=13.5, color="black", family=FONT)))
annotations.append(dict(text="\u00a0Potential", x=px(647), y=py(331), xref="paper",
                        yref="paper", showarrow=False, xanchor="left", yanchor="middle",
                        font=dict(size=13.5, color="black", family=FONT)))

fig.update_layout(width=W, height=H, autosize=False,
                  margin=dict(l=0, r=0, t=0, b=0, autoexpand=False),
                  plot_bgcolor="white", paper_bgcolor="white",
                  shapes=shapes, annotations=annotations,
                  font=dict(family=FONT))

# drop the page's default body margin so the figure sits at the window's corner
fig.write_html("out.html", config={"displayModeBar": False},
               post_script="document.body.style.margin='0px';")
